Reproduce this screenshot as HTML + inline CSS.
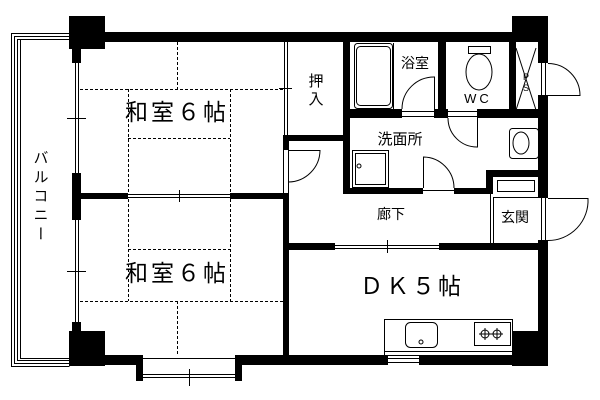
<!DOCTYPE html>
<html><head><meta charset="utf-8"><style>
html,body{margin:0;padding:0;background:#fff;}
svg{display:block;}
text{font-family:"Liberation Sans","Noto Sans CJK JP",sans-serif;fill:#000;}
</style></head><body>
<svg width="600" height="400" viewBox="0 0 600 400" xmlns="http://www.w3.org/2000/svg">
<rect width="600" height="400" fill="#fff"/>
<!-- balcony -->
<g fill="none" stroke="#000" stroke-width="1">
<path d="M69.5 33.5 H11.5 V366.5 H69.5"/>
<path d="M69.5 36.5 H14.5 V363.5 H69.5"/>
<path d="M69.5 39.5 H17.5 V360.5 H69.5"/>
<path d="M20.5 39.5 V358.5 H69.5"/>
</g>
<text x="40" y="150" font-size="15" writing-mode="tb" style="writing-mode:vertical-rl" letter-spacing="4">バルコニー</text>

<g fill="#000">
<!-- pillars -->
<rect x="69" y="16" width="36" height="33"/>
<rect x="69" y="331" width="36" height="35"/>
<rect x="512" y="16" width="36" height="26"/>
<rect x="512" y="331" width="36" height="35"/>
<!-- top wall -->
<rect x="105" y="32" width="407" height="10"/>
<!-- right wall -->
<rect x="538" y="16" width="10" height="47"/>
<rect x="538" y="95" width="10" height="103"/>
<rect x="538" y="240" width="10" height="126"/>
<!-- left wall -->
<rect x="72" y="49" width="9" height="14"/>
<rect x="72" y="173" width="9" height="47"/>
<rect x="72" y="322" width="9" height="10"/>
<!-- bottom wall -->
<rect x="105" y="355" width="38" height="10"/>
<rect x="136" y="355" width="7" height="26"/>
<rect x="235" y="355" width="7" height="26"/>
<rect x="235" y="355" width="153" height="10"/>
<rect x="419" y="355" width="93" height="10"/>
<!-- divider between washitsu -->
<rect x="81" y="193" width="47" height="6"/>
<rect x="230" y="193" width="59" height="6"/>
<!-- vertical wall x283 -->
<rect x="283" y="135" width="6" height="15"/>
<rect x="283" y="193" width="6" height="162"/>
<rect x="283" y="135" width="60" height="6"/>
<!-- closet right wall -->
<rect x="343" y="42" width="7" height="152"/>
<!-- bath bottom wall -->
<rect x="350" y="109" width="52" height="9"/>
<rect x="434" y="109" width="14" height="9"/>
<rect x="477" y="109" width="61" height="9"/>
<rect x="438" y="42" width="8" height="70"/>
<rect x="509" y="42" width="7" height="70"/>
<!-- washroom bottom wall -->
<rect x="343" y="188" width="80" height="6"/>
<rect x="454" y="188" width="39" height="6"/>
<rect x="486" y="170" width="7" height="24"/>
<rect x="486" y="170" width="52" height="7"/>
<!-- DK top wall -->
<rect x="289" y="243" width="46" height="7"/>
<rect x="439" y="243" width="99" height="7"/>
</g>
<g fill="none" stroke="#000" stroke-width="1">
<!-- left windows -->
<path d="M75.5 63 V173 M78.5 63 V173 M67 118.5 H86"/>
<path d="M75.5 220 V322 M78.5 220 V322 M67 271.5 H86"/>
<!-- bay window -->
<path d="M143 358.5 H235 M143 374.5 H235 M143 377.5 H235 M189.5 369 V386"/>
<!-- divider sliding -->
<path d="M128 194.5 H230 M128 197.5 H230 M179.5 190 V202"/>
<!-- closet sliding -->
<path d="M284.5 42 V135 M287.5 42 V135 M279 88.5 H292"/>
<!-- door at 283 -->
<path d="M288.5 150 V193 M283.5 150 V193 M288.5 150.5 H320 A32 32 0 0 1 288.5 182"/>
<!-- DK top window -->
<path d="M335 245.5 H439 M335 248.5 H439 M387.5 240 V253"/>
<!-- DK small bottom window -->
<path d="M388 358.5 H419 M388 362.5 H419"/>
<!-- bath door -->
<path d="M434.5 109 V77 A32 32 0 0 0 402 109"/>
<path d="M402 111.5 H434 M402 116.5 H434"/>
<!-- WC door -->
<path d="M477.5 118 V147 A29 29 0 0 1 448 118"/>
<path d="M448 111.5 H477 M448 116.5 H477"/>
<!-- washroom door -->
<path d="M423.5 188 V157 A31 31 0 0 1 454 188"/>
<path d="M423 190.5 H454"/>
<!-- PS door -->
<path d="M541.5 63 V95 M545.5 63 V95 M548 63.5 H548 A32 32 0 0 1 580 95.5 H548"/>
<!-- entrance door -->
<path d="M541.5 198 V240 M545.5 198 V240 M548 198.5 H588 A40 40 0 0 1 548 240.5"/>
<!-- PS X -->
<path d="M516 48 L536 110 M536 48 L516 110"/>
<!-- bathtub -->
<rect x="354.5" y="43.5" width="38" height="65" rx="3"/>
<rect x="356.5" y="46.5" width="34" height="59" rx="4"/>
<path d="M393.5 43 V109"/>
<!-- toilet -->
<rect x="468.5" y="46.5" width="22" height="7"/>
<ellipse cx="479" cy="72" rx="13" ry="18"/>
<!-- washbasin -->
<rect x="509.5" y="128.5" width="29" height="30" rx="3"/>
<ellipse cx="521" cy="143" rx="8" ry="11"/>
<!-- washing machine -->
<rect x="352.5" y="150.5" width="36" height="37"/>
<rect x="355.5" y="153.5" width="30" height="31"/>
<circle cx="359" cy="166" r="2"/>
<!-- shoe box / genkan -->
<rect x="497.5" y="180.5" width="37" height="11"/>
<path d="M490.5 194 V243 M493.5 197 V243 M493 197.5 H538"/>
<!-- kitchen -->
<rect x="384.5" y="319.5" width="128" height="36"/>
<path d="M384 351.5 H512"/>
<rect x="405.5" y="322.5" width="32" height="25" rx="5"/>
<circle cx="421" cy="342" r="2"/>
<rect x="474.5" y="322.5" width="36" height="23"/>
<circle cx="485" cy="334" r="4"/><circle cx="497" cy="334" r="4"/>
<path d="M479 334 H503 M485 328 V340 M497 328 V340"/>
</g>
<!-- tatami dashed -->
<g fill="none" stroke="#000" stroke-width="1" stroke-dasharray="3,2">
<path d="M177.5 42 V89 M80 89.5 H283 M128.5 89 V193 M230.5 89 V193 M128 138.5 H230"/>
<path d="M128.5 199 V301 M230.5 199 V301 M128 249.5 H230 M80 301.5 H283 M177.5 301 V355"/>
</g>
<text x="177" y="120" font-size="23" text-anchor="middle" letter-spacing="3">和室６帖</text>
<text x="177" y="281" font-size="23" text-anchor="middle" letter-spacing="3">和室６帖</text>
<text x="412" y="294" font-size="23" text-anchor="middle" letter-spacing="3">ＤＫ５帖</text>
<text x="316" y="86" font-size="15" text-anchor="middle">押</text>
<text x="316" y="104" font-size="15" text-anchor="middle">入</text>
<text x="415" y="68" font-size="14" text-anchor="middle">浴室</text>
<text x="478" y="103" font-size="13" text-anchor="middle" letter-spacing="3">WC</text>
<text x="526" y="80" font-size="9" text-anchor="middle">P</text>
<text x="526" y="91" font-size="9" text-anchor="middle">S</text>
<text x="400" y="144" font-size="15" text-anchor="middle">洗面所</text>
<text x="391" y="219" font-size="14" text-anchor="middle">廊下</text>
<text x="515" y="222" font-size="14" text-anchor="middle">玄関</text>
</svg>
</body></html>
